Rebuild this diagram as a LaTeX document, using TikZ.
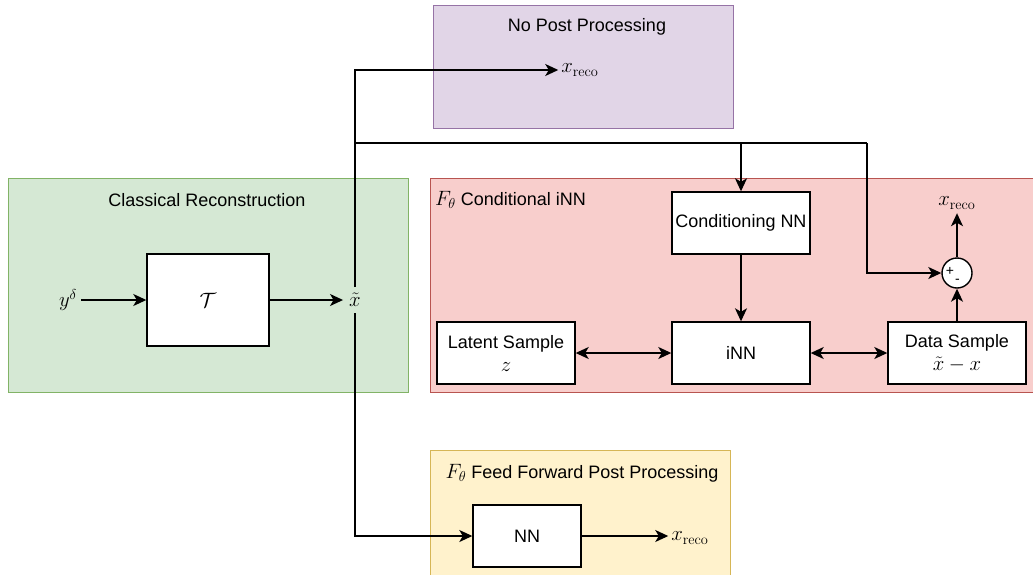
\documentclass[tikz,border=0pt]{standalone}
\usepackage[no-math]{fontspec}
\setmainfont{Liberation Sans}
\usetikzlibrary{arrows.meta}
\definecolor{purpleFill}{HTML}{E1D5E7}
\definecolor{purpleLine}{HTML}{9673A6}
\definecolor{greenFill}{HTML}{D5E8D4}
\definecolor{greenLine}{HTML}{82B366}
\definecolor{redFill}{HTML}{F8CECC}
\definecolor{redLine}{HTML}{B85450}
\definecolor{yellowFill}{HTML}{FFF2CC}
\definecolor{yellowLine}{HTML}{D6B656}
\newcommand\bigmath[1]{{\fontsize{21}{25}\selectfont$#1$}}
\tikzset{
  txt/.style={font=\fontsize{18}{21}\selectfont, inner sep=0pt},
  mth/.style={font=\fontsize{21}{25}\selectfont, inner sep=4pt},
  region/.style={draw=#1Line, fill=#1Fill, line width=1.2pt, rectangle, inner sep=0pt, anchor=north west},
  block/.style={draw=black, fill=white, line width=1.4pt, rectangle, inner sep=0pt,
    font=\fontsize{18}{22}\selectfont, align=center},
  wire/.style={line width=1.5pt, draw=black},
  tip/.tip={Stealth[length=13pt,width=12pt,inset=3.5pt]},
  arr/.style={wire, -tip},
  darr/.style={wire, tip-tip},
}
\begin{document}
\begin{tikzpicture}[x=1pt,y=-1pt]
\useasboundingbox (0,0) rectangle (1033,574);

% background regions
\node[region=purple, minimum width=300pt, minimum height=123pt] (regNone) at (433,5) {};
\node[region=green, minimum width=400pt, minimum height=214pt] (regClass) at (8,178) {};
\node[region=red, minimum width=606pt, minimum height=214pt] (regCond) at (430,178) {};
\node[region=yellow, minimum width=300pt, minimum height=130pt] (regFF) at (430,450) {};

% region titles
\node[txt] (tNone) at (587,27) {No Post Processing};
\node[txt] (tClass) at (207,200) {Classical Reconstruction};
\node[txt, anchor=west] (tCond) at (435,200) {\bigmath{F_\theta} Conditional iNN};
\node[txt] (tFF) at (582,473) {\bigmath{F_\theta} Feed Forward Post Processing};

% classical reconstruction
\node[mth] (y) at (68,300) {$y^\delta$};
\node[block, minimum width=122pt, minimum height=92pt] (T) at (208,300) {\bigmath{\mathcal{T}}};
\node[mth, inner sep=6pt] (xt) at (355,300) {$\tilde{x}$};

% no post processing
\node[mth, inner sep=3pt] (xr1) at (580,70) {$x_{\mathrm{reco}}$};

% conditional iNN
\node[block, minimum width=138pt, minimum height=62pt] (cnn) at (741,223) {Conditioning NN};
\node[block, minimum width=138pt, minimum height=62pt] (inn) at (741,353) {iNN};
\node[block, minimum width=138pt, minimum height=62pt] (lat) at (506,353) {Latent Sample\\[1pt]\bigmath{z}};
\node[block, minimum width=138pt, minimum height=62pt] (dat) at (957,353) {Data Sample\\[1pt]\bigmath{\tilde{x}-x}};
\node[draw=black, fill=white, line width=1.4pt, circle, minimum size=30pt, inner sep=0pt] (sum) at (957,273) {};
\node[inner sep=0pt, font=\fontsize{14}{14}\selectfont] (plus) at (950,271.5) {+};
\node[inner sep=0pt, font=\fontsize{14}{14}\selectfont] (minus) at (957.5,281.5) {-};
\node[mth] (xr2) at (957,203) {$x_{\mathrm{reco}}$};

% feed forward
\node[block, minimum width=108pt, minimum height=62pt] (nn) at (527,536) {NN};
\node[mth, inner sep=3pt] (xr3) at (690,538) {$x_{\mathrm{reco}}$};

% junctions on the distribution line
\coordinate (jA) at (355,143);
\coordinate (jB) at (867,143);

% connectors
\draw[arr] (y.east) -- (T.west);
\draw[arr] (T.east) -- (xt.west);
\draw[arr] (xt.north) |- (xr1.west);
\draw[arr] (xt.south) |- (nn.west);
\draw[wire] (jA) -- (jB);
\draw[arr] (jA) -| (cnn.north);
\draw[arr] (jB) |- (sum.west);
\draw[arr] (cnn.south) -- (inn.north);
\draw[darr] (lat.east) -- (inn.west);
\draw[darr] (inn.east) -- (dat.west);
\draw[arr] (dat.north) -- (sum.south);
\draw[arr] (sum.north) -- (xr2.south);
\draw[arr] (nn.east) -- (nn.east -| xr3.west);
\end{tikzpicture}
\end{document}
